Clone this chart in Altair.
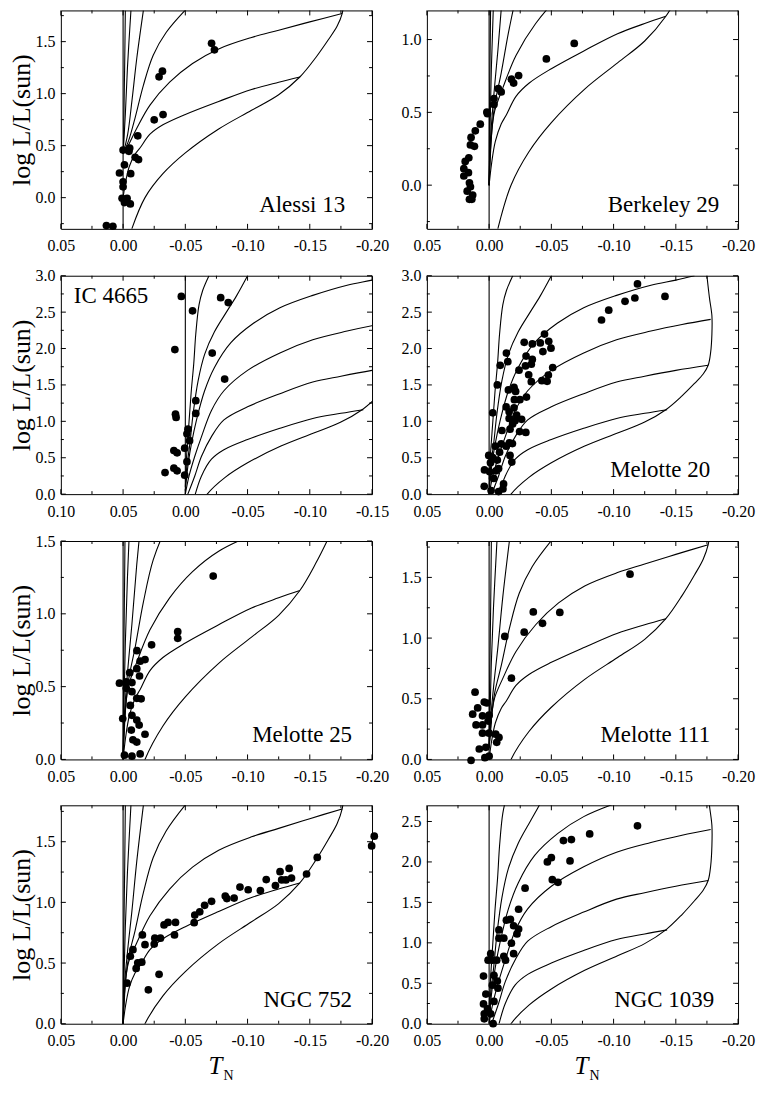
import pandas as pd
import altair as alt

FONT = "Liberation Serif"
W, H = 312, 219

# ---- model sequences ----
# vertical zero line
v_x = [0.0, 0.0]
v_y = [-0.3, 3.0]

# set drawn in the panels that stop near log L = 1.8
s1_x = [0.0, -0.0003, -0.0008, -0.0013, -0.0018]
s1_y = [0.0, 0.5, 0.9, 1.3, 1.8]
s2_x = [0.0, -0.0008, -0.0018, -0.0035, -0.0063]
s2_y = [0.0, 0.4, 0.8, 1.25, 1.8]
s3_x = [0.0, -0.001, -0.0037, -0.0071, -0.011, -0.0163]
s3_y = [0.0, 0.3, 0.61, 0.93, 1.34, 1.8]
s4_x = [0.0, -0.0015, -0.0045, -0.0097, -0.0163, -0.0242, -0.0347, -0.0505]
s4_y = [0.0, 0.3, 0.55, 0.77, 1.08, 1.37, 1.59, 1.81]
e1_x = [0.0, -0.001, -0.0025, -0.0045, -0.0111, -0.0216, -0.0374, -0.0558, -0.0768, -0.1032, -0.125, -0.15, -0.176]
e1_y = [0.0, 0.2, 0.4, 0.51, 0.67, 0.89, 1.11, 1.29, 1.43, 1.54, 1.61, 1.69, 1.77]
f1_x = [0.0, -0.002, -0.005, -0.0097, -0.0137, -0.0216, -0.032, -0.05, -0.0768, -0.1032, -0.125, -0.142]
f1_y = [0.0, 0.15, 0.3, 0.42, 0.48, 0.61, 0.70, 0.80, 0.925, 1.04, 1.11, 1.16]

# set drawn in the panels that go up to log L = 3
a_x = [0.0, -0.0013, -0.003, -0.0047, -0.0068, -0.0084, -0.011, -0.014, -0.019]
a_y = [0.2, 0.6, 1.0, 1.4, 1.8, 2.2, 2.6, 2.8, 3.0]
b_x = [0.0, -0.001, -0.0037, -0.0063, -0.0103, -0.0155, -0.0234, -0.033, -0.041, -0.05]
b_y = [0.1, 0.34, 0.70, 1.11, 1.56, 1.92, 2.23, 2.5, 2.72, 3.0]
c_x = [0.0, -0.0024, -0.005, -0.009, -0.0155, -0.0234, -0.0366, -0.055, -0.076, -0.1024, -0.13, -0.15, -0.165]
c_y = [0.05, 0.43, 0.70, 1.02, 1.42, 1.74, 2.08, 2.35, 2.56, 2.73, 2.87, 2.94, 3.0]
d_x = [0.0, -0.003, -0.0076, -0.013, -0.021, -0.031, -0.05, -0.076, -0.1024, -0.13, -0.155, -0.178]
d_y = [0.0, 0.25, 0.52, 0.79, 1.15, 1.42, 1.70, 1.94, 2.12, 2.24, 2.33, 2.40]
e2_x = [-0.002, -0.0076, -0.013, -0.021, -0.031, -0.05, -0.076, -0.1024, -0.125, -0.15, -0.176]
e2_y = [0.0, 0.25, 0.52, 0.79, 1.02, 1.20, 1.38, 1.54, 1.62, 1.70, 1.77]
f2_x = [-0.008, -0.013, -0.021, -0.031, -0.05, -0.076, -0.1024, -0.125, -0.143]
f2_y = [0.0, 0.25, 0.48, 0.61, 0.75, 0.905, 1.04, 1.11, 1.16]

# outer envelope, same in every panel
g_x = [-0.007, -0.0176, -0.032, -0.05, -0.0768, -0.1032, -0.125, -0.142, -0.155, -0.165, -0.172,
       -0.176, -0.178, -0.179, -0.179, -0.177, -0.175]
g_y = [-0.3, 0.0, 0.23, 0.43, 0.66, 0.84, 0.99, 1.16, 1.35, 1.52, 1.65, 1.77, 1.95, 2.2, 2.45, 2.7, 3.0]

low_set = {"v": (v_x, v_y), "s1": (s1_x, s1_y), "s2": (s2_x, s2_y), "s3": (s3_x, s3_y),
           "s4": (s4_x, s4_y), "e": (e1_x, e1_y), "f": (f1_x, f1_y), "g": (g_x, g_y)}
high_set = {"v": (v_x, v_y), "a": (a_x, a_y), "b": (b_x, b_y), "c": (c_x, c_y),
            "d": (d_x, d_y), "e": (e2_x, e2_y), "f": (f2_x, f2_y), "g": (g_x, g_y)}

# ---- cluster stars ----
alessi_x = [-0.0711, -0.0734, -0.0289, -0.0316, -0.025, -0.0321, -0.0118, 0.0, -0.0053, -0.0047,
            -0.0097, -0.0124, -0.0011, 0.0029, -0.0061, 0.0, 0.0, 0.0008, -0.0032, -0.0011,
            -0.0058, 0.0134, 0.0082]
alessi_y = [1.484, 1.421, 1.162, 1.216, 0.748, 0.799, 0.594, 0.458, 0.477, 0.445,
            0.388, 0.366, 0.316, 0.237, 0.230, 0.152, 0.104, -0.006, -0.006, -0.047,
            -0.060, -0.268, -0.275]

berkeley_x = [-0.0684, -0.046, -0.0237, -0.0179, -0.0197, -0.0074, -0.0097, -0.0039, -0.0039, 0.0018,
              0.0013, 0.0071, 0.0111, 0.0145, 0.015, 0.0118, 0.0163, 0.0192, 0.0203, 0.0166,
              0.0203, 0.0158, 0.015, 0.0176, 0.0132, 0.0158, 0.0139]
berkeley_y = [0.973, 0.867, 0.753, 0.728, 0.701, 0.663, 0.640, 0.595, 0.554, 0.502,
              0.491, 0.419, 0.373, 0.328, 0.276, 0.267, 0.188, 0.163, 0.113, 0.086,
              0.063, 0.016, -0.011, -0.041, -0.068, -0.097, -0.097]

ic4665_x = [0.0032, -0.0058, -0.0284, -0.0345, 0.0084, -0.0216, -0.0316, -0.0084, -0.0084, 0.0079,
            0.0074, -0.0021, -0.0013, -0.0034, 0.0005, 0.0092, 0.0066, -0.0013, 0.0092, 0.0066,
            0.0163, 0.0005]
ic4665_y = [2.716, 2.518, 2.698, 2.631, 1.986, 1.937, 1.581, 1.284, 1.108, 1.099,
            1.054, 0.892, 0.829, 0.734, 0.631, 0.599, 0.568, 0.446, 0.356, 0.320,
            0.297, 0.261]

mel20_x = [-0.0903, -0.0961, -0.1092, -0.1171, -0.1192, -0.1413, -0.0445, -0.0282, -0.0347, -0.0411,
           -0.0479, -0.0497, -0.0432, -0.0139, -0.015, -0.0089, -0.0297, -0.0347, -0.0339, -0.0292,
           -0.024, -0.0511, -0.0476, -0.0318, -0.0339, -0.0424, -0.0466, -0.0066, -0.0155, -0.02,
           -0.0213, -0.03, -0.0247, -0.0203, -0.0137, -0.02, -0.0161, -0.0029, -0.0221, -0.0261,
           -0.0208, -0.0161, -0.0189, -0.0168, -0.0245, -0.0295, -0.0103, -0.0097, -0.0163, -0.0187,
           -0.0137, -0.005, -0.0084, -0.0168, -0.0182, 0.0003, -0.0029, -0.0066, -0.0011, -0.0076,
           0.0037, -0.0055, -0.0005, -0.0037, 0.0039, -0.0116, -0.0111, -0.0016, -0.0076]
mel20_y = [2.392, 2.527, 2.649, 2.694, 2.887, 2.716, 2.198, 2.086, 2.063, 2.077,
           2.099, 2.005, 1.959, 1.937, 1.82, 1.77, 1.896, 1.851, 1.784, 1.761,
           1.703, 1.739, 1.635, 1.640, 1.545, 1.559, 1.55, 1.50, 1.432, 1.468,
           1.41, 1.333, 1.297, 1.297, 1.198, 1.185, 1.131, 1.117, 1.086, 1.027,
           1.009, 1.04, 0.964, 0.892, 0.86, 0.847, 0.874, 0.689, 0.703, 0.694,
           0.658, 0.658, 0.577, 0.532, 0.441, 0.532, 0.50, 0.468, 0.432, 0.351,
           0.333, 0.320, 0.306, 0.216, 0.108, 0.140, 0.072, 0.05, 0.036]

mel25_x = [-0.0724, -0.0439, -0.0439, -0.0229, -0.0111, -0.0176, -0.0137, -0.011, -0.0132, -0.0053,
           0.0029, -0.0024, -0.0071, -0.0026, -0.0071, -0.011, -0.0145, -0.0058, 0.0003, -0.0071,
           -0.011, -0.0129, -0.0066, -0.0176, -0.0079, -0.011, -0.0011, -0.0071, -0.0137]
mel25_y = [1.259, 0.877, 0.832, 0.787, 0.747, 0.686, 0.675, 0.623, 0.573, 0.596,
           0.524, 0.533, 0.528, 0.488, 0.465, 0.42, 0.416, 0.371, 0.281, 0.303,
           0.27, 0.236, 0.202, 0.173, 0.135, 0.119, 0.029, 0.022, 0.038]

mel111_x = [-0.1132, -0.0355, -0.0568, -0.0429, -0.0282, -0.0126, -0.0179, 0.0113, 0.0092, 0.0132,
            0.0039, 0.0018, 0.0053, 0.0, 0.0008, 0.0105, 0.0053, 0.0053, 0.0, -0.0053,
            -0.0079, -0.0061, 0.0079, 0.0026, 0.0, 0.0034, 0.0145]
mel111_y = [1.527, 1.216, 1.211, 1.122, 1.049, 1.014, 0.670, 0.554, 0.424, 0.373,
            0.473, 0.465, 0.359, 0.365, 0.316, 0.284, 0.284, 0.216, 0.216, 0.208,
            0.181, 0.141, 0.086, 0.10, 0.027, 0.014, -0.008]

ngc752_x = [-0.1997, -0.2018, -0.156, -0.1474, -0.1334, -0.1353, -0.1308, -0.1274, -0.1261, -0.1224,
            -0.115, -0.1103, -0.1005, -0.0939, -0.0892, -0.0834, -0.0821, -0.0711, -0.0655, -0.0616,
            -0.0576, -0.0571, -0.0421, -0.0361, -0.0329, -0.0413, -0.03, -0.0255, -0.025, -0.0155,
            -0.0176, -0.0079, -0.0058, -0.015, -0.0118, -0.0105, -0.0289, -0.0203, -0.0032]
ngc752_y = [1.465, 1.546, 1.37, 1.234, 1.28, 1.20, 1.185, 1.185, 1.253, 1.139,
            1.188, 1.098, 1.104, 1.126, 1.036, 1.031, 1.052, 1.009, 0.976, 0.922,
            0.895, 0.833, 0.835, 0.835, 0.814, 0.732, 0.705, 0.705, 0.656, 0.732,
            0.651, 0.61, 0.556, 0.507, 0.502, 0.456, 0.407, 0.279, 0.334]

ngc1039_x = [-0.1192, -0.0808, -0.0661, -0.0597, -0.05, -0.0468, -0.065, -0.0508, -0.0553, -0.0289,
             -0.0237, -0.0139, -0.0171, -0.0197, -0.0237, -0.0224, -0.0079, -0.0079, -0.0118, -0.0179,
             -0.0118, -0.0132, -0.0197, -0.0013, 0.0008, -0.0026, -0.0061, 0.0045, -0.0039, -0.0066,
             -0.0026, -0.0071, 0.0026, -0.0039, 0.0045, 0.0013, -0.0013, 0.0039, 0.0039, -0.0032]
ngc1039_y = [2.447, 2.346, 2.276, 2.264, 2.053, 2.0, 2.012, 1.78, 1.748, 1.675,
             1.415, 1.28, 1.289, 1.211, 1.171, 1.11, 1.159, 1.057, 1.057, 0.996,
             0.833, 0.785, 0.866, 0.866, 0.785, 0.785, 0.785, 0.589, 0.598, 0.528,
             0.476, 0.439, 0.366, 0.276, 0.244, 0.183, 0.122, 0.122, 0.061, 0.0]

# ---- axis ticks ----
x_ticks = [0.05, 0.0, -0.05, -0.10, -0.15, -0.20]
x_ticks_ic = [0.10, 0.05, 0.0, -0.05, -0.10, -0.15]
y_ticks_18 = [0.0, 0.5, 1.0, 1.5]
y_ticks_12 = [0.0, 0.5, 1.0]
y_ticks_30 = [0.0, 0.5, 1.0, 1.5, 2.0, 2.5, 3.0]
y_ticks_27 = [0.0, 0.5, 1.0, 1.5, 2.0, 2.5]


def minor_ticks(major, dom):
    half = (major[1] - major[0]) / 2
    lo, hi = min(dom), max(dom)
    cands = [major[0] - half] + [m + half for m in major]
    return [c for c in cands if lo < c < hi]


def curve_table(curves, join=None):
    rows = []
    for key, (xs, ys) in curves.items():
        pts = list(zip(xs, ys))
        # curves that leave the zero line higher up in this cluster
        if join is not None and key in ("s1", "s2", "s3", "s4", "e"):
            pts = [(0.0, join)] + [p for p in pts if p[1] > join + 0.03]
        for i, (x, y) in enumerate(pts):
            rows.append({"curve": key, "i": i, "x": x, "y": y})
    return pd.DataFrame(rows)


def panel(name, px, py, xdom, ydom, xmaj, ymaj, curves, join, label_pos, left, bottom):
    xs = alt.Scale(domain=xdom, nice=False, zero=False)
    ys = alt.Scale(domain=ydom, nice=False, zero=False)
    X = alt.X("x:Q", scale=xs, title=None,
              axis=alt.Axis(values=xmaj, labelFlush=False, labelPadding=9,
                            labelExpr="(datum.value < 0 ? '-' : '') + format(abs(datum.value), '.2f')"))
    if left:
        Y = alt.Y("y:Q", scale=ys, title="log L/L(sun)",
                  axis=alt.Axis(values=ymaj, format=".1f", labelFlush=False, labelPadding=6))
    else:
        Y = alt.Y("y:Q", scale=ys, title=None,
                  axis=alt.Axis(values=ymaj, format=".1f", labelFlush=False, labelPadding=6))

    lines = alt.Chart(curve_table(curves, join)).mark_line(
        clip=True, color="black", strokeWidth=1.1, interpolate="catmull-rom"
    ).encode(x=X, y=Y, detail="curve:N", order="i:Q")

    stars = alt.Chart(pd.DataFrame({"x": px, "y": py})).mark_circle(
        size=60, color="black", opacity=1
    ).encode(x=X, y=Y)

    layers = [lines, stars]
    xmin = minor_ticks(xmaj, xdom)
    ymin = minor_ticks(ymaj, ydom)
    for vals, ln in ((xmaj, 5), (xmin, 3)):
        d = pd.DataFrame({"x": vals})
        layers.append(alt.Chart(d).mark_rule(color="black", strokeWidth=1).encode(
            x=X, y=alt.value(H), y2=alt.value(H - ln)))
        layers.append(alt.Chart(d).mark_rule(color="black", strokeWidth=1).encode(
            x=X, y=alt.value(0), y2=alt.value(ln)))
    for vals, ln in ((ymaj, 5), (ymin, 3)):
        d = pd.DataFrame({"y": vals})
        layers.append(alt.Chart(d).mark_rule(color="black", strokeWidth=1).encode(
            y=Y, x=alt.value(0), x2=alt.value(ln)))
        layers.append(alt.Chart(d).mark_rule(color="black", strokeWidth=1).encode(
            y=Y, x=alt.value(W), x2=alt.value(W - ln)))

    lab = pd.DataFrame({"label": [name]})
    if label_pos[0] == "top":
        layers.append(alt.Chart(lab).mark_text(
            font=FONT, fontSize=23, align="left", baseline="alphabetic", color="black"
        ).encode(x=alt.value(label_pos[1]), y=alt.value(27), text="label:N"))
    else:
        layers.append(alt.Chart(lab).mark_text(
            font=FONT, fontSize=23, align="right", baseline="alphabetic", color="black"
        ).encode(x=alt.value(W - label_pos[1]), y=alt.value(H - 17), text="label:N"))

    if bottom:
        t = pd.DataFrame({"t": ["T"], "n": ["N"]})
        layers.append(alt.Chart(t).mark_text(
            font=FONT, fontSize=25, fontStyle="italic", align="right", baseline="alphabetic", color="black"
        ).encode(x=alt.value(W / 2 + 6), y=alt.value(H + 50), text="t:N"))
        layers.append(alt.Chart(t).mark_text(
            font=FONT, fontSize=14, align="left", baseline="alphabetic", color="black"
        ).encode(x=alt.value(W / 2 + 7), y=alt.value(H + 56), text="n:N"))

    return alt.layer(*layers).properties(width=W, height=H)


p_alessi = panel("Alessi 13", alessi_x, alessi_y, [0.05, -0.20], [-0.3, 1.8], x_ticks, y_ticks_18,
                 low_set, 0.42, ("bottom", 27), True, False)
p_berk = panel("Berkeley 29", berkeley_x, berkeley_y, [0.05, -0.20], [-0.3, 1.2], x_ticks, y_ticks_12,
               low_set, None, ("bottom", 19), False, False)
p_ic = panel("IC 4665", ic4665_x, ic4665_y, [0.10, -0.15], [0.0, 3.0], x_ticks_ic, y_ticks_30,
             high_set, None, ("top", 13), True, False)
p_m20 = panel("Melotte 20", mel20_x, mel20_y, [0.05, -0.20], [0.0, 3.0], x_ticks, y_ticks_30,
              high_set, None, ("bottom", 28), False, False)
p_m25 = panel("Melotte 25", mel25_x, mel25_y, [0.05, -0.20], [0.0, 1.5], x_ticks, y_ticks_18,
              low_set, None, ("bottom", 20), True, False)
p_m111 = panel("Melotte 111", mel111_x, mel111_y, [0.05, -0.20], [0.0, 1.8], x_ticks, y_ticks_18,
               low_set, 0.1, ("bottom", 28), False, False)
p_752 = panel("NGC 752", ngc752_x, ngc752_y, [0.05, -0.20], [0.0, 1.8], x_ticks, y_ticks_18,
              low_set, None, ("bottom", 20), True, True)
p_1039 = panel("NGC 1039", ngc1039_x, ngc1039_y, [0.05, -0.20], [0.0, 2.7], x_ticks, y_ticks_27,
               high_set, None, ("bottom", 24), False, True)

row1 = alt.hconcat(p_alessi, p_berk, spacing=10)
row2 = alt.hconcat(p_ic, p_m20, spacing=10)
row3 = alt.hconcat(p_m25, p_m111, spacing=10)
row4 = alt.hconcat(p_752, p_1039, spacing=10)

# rows 2 and 3 carry a y label on their top edge, which takes part of the gap above them
upper = alt.vconcat(row1, row2, row3, spacing=12)
chart = alt.vconcat(upper, row4, spacing=19).properties(
    padding={"left": 0, "top": 0, "right": 0, "bottom": 0}
).configure_view(
    stroke="black", strokeWidth=1
).configure_axis(
    domain=False, ticks=False, grid=False,
    labelFont=FONT, labelFontSize=16, labelColor="black",
    titleFont=FONT, titleFontSize=26, titleFontWeight="normal", titleColor="black", titlePadding=0
)

chart.save("out.html", embed_options={"renderer": "svg", "actions": False})
